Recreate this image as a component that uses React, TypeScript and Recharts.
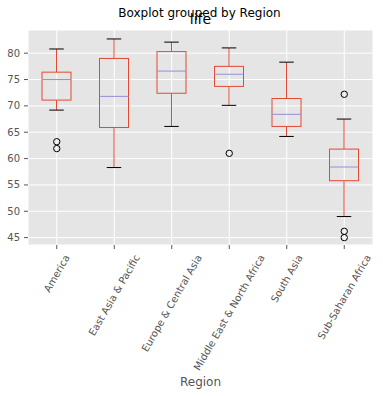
import React, { useLayoutEffect, useRef, useState } from 'react';
import { ComposedChart, Bar, Scatter, XAxis, YAxis, CartesianGrid, Customized } from 'recharts';

const regions = [
  'America',
  'East Asia & Pacific',
  'Europe & Central Asia',
  'Middle East & North Africa',
  'South Asia',
  'Sub-Saharan Africa',
];
const whiskerLow = [69.2, 58.3, 66.1, 70.1, 64.2, 49.0];
const q1 = [71.1, 65.9, 72.4, 73.7, 66.1, 55.8];
const median = [75.0, 71.8, 76.6, 76.0, 68.4, 58.4];
const q3 = [76.4, 79.0, 80.3, 77.5, 71.4, 61.8];
const whiskerHigh = [80.8, 82.7, 82.1, 81.0, 78.3, 67.5];
const outliers: number[][] = [[63.2, 61.9], [], [], [61.0], [], [72.2, 46.2, 45.0]];
const yTicks = [45, 50, 55, 60, 65, 70, 75, 80];

const data = regions.map((r, i) => ({
  region: r,
  range: [whiskerLow[i], whiskerHigh[i]],
  low: whiskerLow[i],
  q1: q1[i],
  med: median[i],
  q3: q3[i],
  high: whiskerHigh[i],
  out1: outliers[i][0] ?? null,
  out2: outliers[i][1] ?? null,
  out3: outliers[i][2] ?? null,
}));

const RED = '#E24A33';
const PURPLE = '#988ED5';
const FONT = 'DejaVu Sans, sans-serif';

function BoxShape(props: any) {
  const { x, y, width, height, payload } = props;
  if (x == null || y == null) return <g />;
  const top = Math.min(y, y + height);
  const bottom = Math.max(y, y + height);
  const hi = payload.high;
  const lo = payload.low;
  const px = (v: number) => top + ((hi - v) / (hi - lo)) * (bottom - top);
  const cx = x + width / 2;
  const capHalf = width / 4;
  const yq1 = px(payload.q1);
  const yq3 = px(payload.q3);
  const ym = px(payload.med);
  return (
    <g>
      <line x1={cx} x2={cx} y1={top} y2={yq3} stroke={RED} strokeWidth={1} />
      <line x1={cx} x2={cx} y1={yq1} y2={bottom} stroke={RED} strokeWidth={1} />
      <line x1={cx - capHalf} x2={cx + capHalf} y1={top} y2={top} stroke="#000" strokeWidth={1} />
      <line x1={cx - capHalf} x2={cx + capHalf} y1={bottom} y2={bottom} stroke="#000" strokeWidth={1} />
      <rect x={x} y={yq3} width={width} height={yq1 - yq3} fill="none" stroke={RED} strokeWidth={1} />
      <line x1={x} x2={x + width} y1={ym} y2={ym} stroke={PURPLE} strokeWidth={1} />
    </g>
  );
}

function Flier(props: any) {
  const { cx, cy } = props;
  if (!Number.isFinite(cx) || !Number.isFinite(cy)) return <g />;
  return <circle cx={cx} cy={cy} r={3.2} fill="none" stroke="#000" strokeWidth={1} />;
}

function XTick(props: any) {
  const { x, y, payload } = props;
  const ref = useRef<SVGTextElement>(null);
  const [len, setLen] = useState(0);
  useLayoutEffect(() => {
    if (ref.current) setLen(ref.current.getComputedTextLength());
  }, [payload.value]);
  const h = 10;
  const top = y + 1;
  const cy = top + (len * 0.866 + h * 0.5) / 2;
  return (
    <text
      ref={ref}
      x={x}
      y={cy}
      transform={`rotate(-60, ${x}, ${cy})`}
      textAnchor="middle"
      dominantBaseline="central"
      fontSize={10}
      fontFamily={FONT}
      fill="#555"
    >
      {payload.value}
    </text>
  );
}

function Titles() {
  return (
    <g fontFamily={FONT}>
      <text x={199.5} y={16.5} textAnchor="middle" fontSize={12} fill="#000">
        Boxplot grouped by Region
      </text>
      <text x={200.5} y={24} textAnchor="middle" fontSize={14} fill="#000">
        life
      </text>
      <text x={200.5} y={386} textAnchor="middle" fontSize={12} fill="#555">
        Region
      </text>
    </g>
  );
}

export default function App() {
  return (
    <div style={{ position: 'absolute', left: 0, top: 0 }}>
      <ComposedChart
        width={383}
        height={396}
        data={data}
        margin={{ top: 30, right: 10, bottom: 0, left: 0 }}
      >
        <CartesianGrid fill="#E5E5E5" stroke="#FFFFFF" strokeWidth={1} />
        <XAxis
          dataKey="region"
          type="category"
          height={151}
          axisLine={false}
          tickLine={{ stroke: '#555' }}
          tickSize={4}
          tickMargin={3}
          interval={0}
          tick={<XTick />}
        />
        <YAxis
          type="number"
          domain={[43.6, 84.4]}
          ticks={yTicks}
          width={28}
          axisLine={false}
          tickLine={{ stroke: '#555' }}
          tickSize={4}
          tickMargin={4}
          tick={{ fill: '#555', fontSize: 10, fontFamily: FONT }}
          allowDataOverflow
        />
        <Bar dataKey="range" barSize={29} shape={<BoxShape />} isAnimationActive={false} />
        <Scatter dataKey="out1" shape={<Flier />} isAnimationActive={false} />
        <Scatter dataKey="out2" shape={<Flier />} isAnimationActive={false} />
        <Scatter dataKey="out3" shape={<Flier />} isAnimationActive={false} />
        <Customized component={<Titles />} />
      </ComposedChart>
    </div>
  );
}
